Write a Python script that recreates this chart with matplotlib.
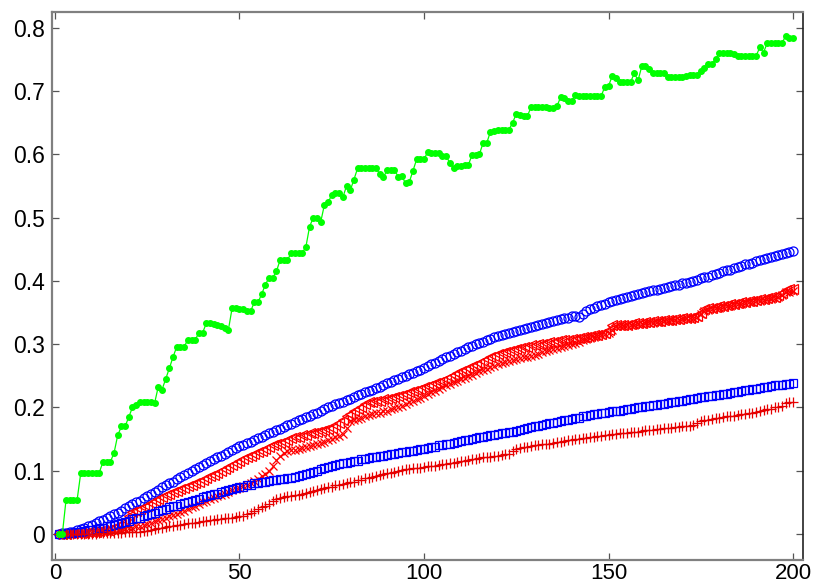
import numpy as np
import matplotlib
matplotlib.use("Agg")
import matplotlib.pyplot as plt

plt.rcParams['font.family'] = ['Liberation Sans', 'DejaVu Sans']

# x positions 1..200
x = np.arange(1, 201)

# green dots + line
green_vals = [
    0.000, 0.000, 0.054, 0.054, 0.054, 0.054, 0.097, 0.097, 0.097, 0.097,
    0.097, 0.097, 0.114, 0.114, 0.114, 0.128, 0.156, 0.170, 0.170, 0.185,
    0.200, 0.204, 0.209, 0.209, 0.209, 0.209, 0.207, 0.233, 0.228, 0.245,
    0.262, 0.280, 0.296, 0.296, 0.296, 0.307, 0.307, 0.307, 0.318, 0.318,
    0.333, 0.333, 0.332, 0.330, 0.328, 0.325, 0.323, 0.357, 0.357, 0.356,
    0.355, 0.353, 0.352, 0.366, 0.366, 0.379, 0.394, 0.405, 0.405, 0.415,
    0.433, 0.433, 0.433, 0.444, 0.444, 0.444, 0.444, 0.454, 0.486, 0.500,
    0.500, 0.493, 0.520, 0.524, 0.536, 0.539, 0.539, 0.532, 0.550, 0.543,
    0.560, 0.578, 0.578, 0.578, 0.578, 0.578, 0.578, 0.569, 0.564, 0.575,
    0.575, 0.575, 0.565, 0.566, 0.554, 0.556, 0.574, 0.592, 0.592, 0.592,
    0.604, 0.602, 0.602, 0.602, 0.598, 0.598, 0.586, 0.578, 0.581, 0.582,
    0.583, 0.583, 0.599, 0.599, 0.600, 0.618, 0.618, 0.636, 0.637, 0.638,
    0.638, 0.639, 0.639, 0.650, 0.664, 0.662, 0.661, 0.660, 0.675, 0.675,
    0.675, 0.675, 0.675, 0.674, 0.673, 0.676, 0.690, 0.689, 0.684, 0.684,
    0.694, 0.692, 0.692, 0.692, 0.692, 0.692, 0.692, 0.692, 0.707, 0.708,
    0.724, 0.720, 0.715, 0.715, 0.715, 0.715, 0.728, 0.717, 0.739, 0.739,
    0.735, 0.728, 0.728, 0.728, 0.728, 0.723, 0.723, 0.723, 0.723, 0.723,
    0.724, 0.726, 0.726, 0.726, 0.731, 0.737, 0.743, 0.743, 0.750, 0.760,
    0.760, 0.760, 0.760, 0.758, 0.756, 0.756, 0.756, 0.756, 0.756, 0.756,
    0.769, 0.761, 0.776, 0.776, 0.776, 0.776, 0.776, 0.787, 0.784, 0.784,
]

# blue circles (upper blue)
circle_vals = [
    0.000, 0.001, 0.002, 0.003, 0.004, 0.006, 0.008, 0.010, 0.012, 0.014,
    0.017, 0.020, 0.022, 0.025, 0.028, 0.031, 0.034, 0.037, 0.041, 0.044,
    0.047, 0.050, 0.053, 0.057, 0.060, 0.064, 0.067, 0.070, 0.074, 0.077,
    0.080, 0.083, 0.087, 0.090, 0.093, 0.096, 0.099, 0.103, 0.106, 0.109,
    0.112, 0.115, 0.118, 0.121, 0.124, 0.127, 0.130, 0.133, 0.136, 0.139,
    0.141, 0.144, 0.146, 0.149, 0.151, 0.154, 0.156, 0.159, 0.161, 0.164,
    0.166, 0.169, 0.172, 0.174, 0.177, 0.180, 0.182, 0.185, 0.187, 0.190,
    0.192, 0.195, 0.197, 0.200, 0.202, 0.205, 0.207, 0.209, 0.212, 0.214,
    0.216, 0.219, 0.221, 0.224, 0.226, 0.228, 0.231, 0.233, 0.236, 0.238,
    0.240, 0.243, 0.245, 0.248, 0.250, 0.253, 0.255, 0.258, 0.260, 0.263,
    0.266, 0.269, 0.271, 0.274, 0.277, 0.280, 0.282, 0.285, 0.287, 0.290,
    0.292, 0.295, 0.297, 0.300, 0.302, 0.304, 0.306, 0.309, 0.311, 0.313,
    0.314, 0.316, 0.318, 0.319, 0.321, 0.323, 0.324, 0.326, 0.327, 0.329,
    0.331, 0.332, 0.334, 0.335, 0.337, 0.338, 0.340, 0.341, 0.342, 0.344,
    0.344, 0.343, 0.348, 0.352, 0.356, 0.358, 0.360, 0.362, 0.364, 0.366,
    0.368, 0.370, 0.371, 0.373, 0.375, 0.376, 0.378, 0.379, 0.381, 0.382,
    0.384, 0.385, 0.386, 0.388, 0.389, 0.390, 0.392, 0.393, 0.394, 0.396,
    0.397, 0.399, 0.400, 0.402, 0.404, 0.406, 0.407, 0.409, 0.411, 0.413,
    0.415, 0.417, 0.418, 0.420, 0.422, 0.424, 0.426, 0.427, 0.429, 0.431,
    0.433, 0.435, 0.436, 0.438, 0.440, 0.441, 0.443, 0.444, 0.446, 0.447,
]

# red left triangles
tri_vals = [
    0.000, 0.000, 0.000, 0.001, 0.001, 0.001, 0.002, 0.002, 0.003, 0.003,
    0.004, 0.005, 0.006, 0.007, 0.008, 0.010, 0.012, 0.016, 0.022, 0.029,
    0.035, 0.037, 0.040, 0.042, 0.045, 0.049, 0.052, 0.055, 0.059, 0.062,
    0.064, 0.066, 0.068, 0.071, 0.073, 0.076, 0.078, 0.081, 0.083, 0.086,
    0.089, 0.092, 0.094, 0.097, 0.100, 0.103, 0.106, 0.109, 0.112, 0.115,
    0.118, 0.121, 0.124, 0.127, 0.130, 0.132, 0.135, 0.137, 0.140, 0.142,
    0.144, 0.146, 0.149, 0.151, 0.153, 0.154, 0.156, 0.157, 0.159, 0.160,
    0.161, 0.163, 0.164, 0.166, 0.168, 0.172, 0.176, 0.181, 0.186, 0.190,
    0.194, 0.198, 0.201, 0.205, 0.208, 0.209, 0.210, 0.211, 0.213, 0.214,
    0.215, 0.217, 0.218, 0.220, 0.222, 0.224, 0.226, 0.228, 0.230, 0.232,
    0.234, 0.236, 0.238, 0.240, 0.242, 0.245, 0.248, 0.251, 0.254, 0.257,
    0.260, 0.262, 0.265, 0.267, 0.270, 0.273, 0.276, 0.279, 0.281, 0.284,
    0.286, 0.288, 0.290, 0.291, 0.293, 0.294, 0.295, 0.296, 0.298, 0.299,
    0.300, 0.301, 0.302, 0.303, 0.304, 0.305, 0.306, 0.306, 0.307, 0.308,
    0.309, 0.310, 0.311, 0.312, 0.313, 0.314, 0.315, 0.316, 0.318, 0.323,
    0.330, 0.330, 0.330, 0.331, 0.331, 0.332, 0.333, 0.333, 0.334, 0.335,
    0.335, 0.336, 0.337, 0.337, 0.338, 0.339, 0.339, 0.340, 0.340, 0.341,
    0.342, 0.342, 0.343, 0.344, 0.350, 0.355, 0.357, 0.358, 0.359, 0.360,
    0.361, 0.362, 0.363, 0.364, 0.365, 0.366, 0.367, 0.368, 0.369, 0.370,
    0.371, 0.372, 0.373, 0.374, 0.375, 0.377, 0.381, 0.386, 0.387, 0.388,
]

# red crosses
cross_vals = [
    0.000, 0.000, 0.000, 0.000, 0.001, 0.001, 0.001, 0.001, 0.002, 0.002,
    0.002, 0.003, 0.003, 0.004, 0.004, 0.005, 0.006, 0.007, 0.008, 0.009,
    0.010, 0.012, 0.013, 0.015, 0.016, 0.018, 0.020, 0.022, 0.024, 0.026,
    0.028, 0.030, 0.032, 0.035, 0.037, 0.040, 0.042, 0.045, 0.047, 0.050,
    0.052, 0.055, 0.057, 0.060, 0.062, 0.064, 0.066, 0.069, 0.071, 0.073,
    0.076, 0.078, 0.081, 0.084, 0.087, 0.091, 0.095, 0.100, 0.108, 0.117,
    0.123, 0.128, 0.132, 0.133, 0.133, 0.134, 0.136, 0.137, 0.139, 0.140,
    0.142, 0.144, 0.146, 0.148, 0.150, 0.153, 0.155, 0.158, 0.168, 0.178,
    0.180, 0.182, 0.184, 0.186, 0.188, 0.189, 0.191, 0.192, 0.194, 0.195,
    0.197, 0.199, 0.201, 0.203, 0.205, 0.208, 0.210, 0.213, 0.215, 0.218,
    0.221, 0.224, 0.226, 0.229, 0.232, 0.235, 0.237, 0.240, 0.242, 0.245,
    0.247, 0.250, 0.252, 0.255, 0.257, 0.259, 0.261, 0.264, 0.266, 0.268,
    0.270, 0.272, 0.274, 0.275, 0.277, 0.278, 0.279, 0.280, 0.282, 0.283,
    0.285, 0.287, 0.289, 0.291, 0.293, 0.294, 0.296, 0.297, 0.299, 0.300,
    0.302, 0.304, 0.306, 0.308, 0.310, 0.312, 0.313, 0.315, 0.316, 0.318,
    0.323, 0.328, 0.329, 0.329, 0.330, 0.331, 0.331, 0.332, 0.332, 0.333,
    0.334, 0.334, 0.335, 0.335, 0.336, 0.337, 0.338, 0.338, 0.339, 0.340,
    0.341, 0.341, 0.342, 0.343, 0.347, 0.352, 0.354, 0.355, 0.357, 0.358,
    0.359, 0.360, 0.361, 0.362, 0.363, 0.364, 0.365, 0.366, 0.367, 0.368,
    0.369, 0.370, 0.371, 0.372, 0.373, 0.375, 0.378, 0.382, 0.383, 0.384,
]

# blue squares (lower blue)
square_vals = [
    0.000, 0.000, 0.001, 0.001, 0.002, 0.003, 0.004, 0.005, 0.006, 0.007,
    0.008, 0.009, 0.010, 0.012, 0.013, 0.015, 0.016, 0.018, 0.019, 0.021,
    0.023, 0.025, 0.026, 0.028, 0.030, 0.032, 0.034, 0.036, 0.038, 0.040,
    0.042, 0.044, 0.045, 0.047, 0.049, 0.051, 0.053, 0.054, 0.056, 0.058,
    0.060, 0.061, 0.063, 0.064, 0.066, 0.068, 0.069, 0.071, 0.072, 0.074,
    0.075, 0.077, 0.078, 0.080, 0.081, 0.082, 0.083, 0.084, 0.085, 0.086,
    0.087, 0.087, 0.088, 0.089, 0.090, 0.092, 0.093, 0.095, 0.096, 0.098,
    0.100, 0.102, 0.104, 0.106, 0.108, 0.109, 0.110, 0.112, 0.113, 0.114,
    0.115, 0.116, 0.118, 0.119, 0.120, 0.121, 0.122, 0.123, 0.124, 0.125,
    0.126, 0.127, 0.128, 0.129, 0.130, 0.131, 0.132, 0.133, 0.134, 0.135,
    0.136, 0.137, 0.138, 0.140, 0.141, 0.142, 0.143, 0.144, 0.146, 0.147,
    0.148, 0.149, 0.150, 0.152, 0.153, 0.154, 0.155, 0.156, 0.157, 0.158,
    0.159, 0.160, 0.161, 0.162, 0.163, 0.165, 0.166, 0.167, 0.169, 0.170,
    0.171, 0.172, 0.174, 0.175, 0.176, 0.177, 0.178, 0.180, 0.181, 0.182,
    0.183, 0.184, 0.186, 0.187, 0.188, 0.189, 0.190, 0.191, 0.192, 0.193,
    0.194, 0.195, 0.195, 0.196, 0.197, 0.198, 0.199, 0.200, 0.201, 0.202,
    0.203, 0.204, 0.204, 0.205, 0.206, 0.207, 0.208, 0.209, 0.210, 0.211,
    0.212, 0.213, 0.214, 0.215, 0.216, 0.217, 0.218, 0.218, 0.219, 0.220,
    0.221, 0.222, 0.223, 0.224, 0.225, 0.226, 0.227, 0.228, 0.229, 0.230,
    0.231, 0.232, 0.233, 0.234, 0.235, 0.236, 0.236, 0.237, 0.237, 0.238,
]

# red plus
plus_vals = [
    0.000, 0.000, 0.000, 0.000, 0.000, 0.000, 0.000, 0.000, 0.000, 0.000,
    0.000, 0.001, 0.001, 0.001, 0.001, 0.002, 0.002, 0.002, 0.003, 0.003,
    0.003, 0.004, 0.004, 0.005, 0.005, 0.007, 0.008, 0.009, 0.010, 0.011,
    0.012, 0.013, 0.014, 0.015, 0.016, 0.017, 0.018, 0.018, 0.019, 0.020,
    0.021, 0.022, 0.022, 0.023, 0.024, 0.025, 0.026, 0.026, 0.027, 0.028,
    0.029, 0.031, 0.033, 0.036, 0.040, 0.043, 0.045, 0.048, 0.052, 0.055,
    0.057, 0.059, 0.060, 0.060, 0.061, 0.062, 0.064, 0.065, 0.067, 0.068,
    0.069, 0.071, 0.072, 0.074, 0.075, 0.077, 0.078, 0.079, 0.081, 0.082,
    0.083, 0.085, 0.086, 0.088, 0.089, 0.090, 0.092, 0.093, 0.095, 0.096,
    0.097, 0.098, 0.100, 0.101, 0.102, 0.103, 0.104, 0.104, 0.105, 0.106,
    0.107, 0.108, 0.108, 0.109, 0.110, 0.111, 0.112, 0.113, 0.114, 0.115,
    0.116, 0.117, 0.118, 0.119, 0.120, 0.121, 0.121, 0.122, 0.123, 0.124,
    0.125, 0.126, 0.127, 0.131, 0.135, 0.136, 0.137, 0.138, 0.139, 0.140,
    0.141, 0.142, 0.142, 0.143, 0.144, 0.145, 0.146, 0.147, 0.148, 0.149,
    0.150, 0.150, 0.151, 0.152, 0.153, 0.154, 0.155, 0.155, 0.156, 0.157,
    0.158, 0.158, 0.159, 0.159, 0.160, 0.161, 0.162, 0.162, 0.163, 0.164,
    0.165, 0.165, 0.166, 0.166, 0.167, 0.168, 0.168, 0.169, 0.169, 0.170,
    0.171, 0.171, 0.172, 0.176, 0.179, 0.180, 0.181, 0.182, 0.183, 0.184,
    0.185, 0.186, 0.186, 0.187, 0.188, 0.189, 0.190, 0.191, 0.192, 0.193,
    0.194, 0.196, 0.197, 0.198, 0.200, 0.201, 0.203, 0.207, 0.208, 0.208,
]

xticks = [0, 50, 100, 150, 200]
yticks = [0, 0.1, 0.2, 0.3, 0.4, 0.5, 0.6, 0.7, 0.8]
ytick_labels = ['0', '0.1', '0.2', '0.3', '0.4', '0.5', '0.6', '0.7', '0.8']

fig = plt.figure(figsize=(8.14, 5.86), dpi=100)
ax = fig.add_axes([0.0639, 0.0444, 0.9226, 0.9351])

ax.plot(x, circle_vals, 'o', color=(0, 0, 1), mfc='none', ms=6.5, mew=0.9)
ax.plot(x, tri_vals, '<', color=(1, 0, 0), mfc='none', ms=6.5, mew=0.9)
ax.plot(x, cross_vals, 'x', color=(1, 0, 0), ms=6, mew=0.9)
ax.plot(x, square_vals, 's', color=(0, 0, 1), mfc='none', ms=5.5, mew=0.9)
ax.plot(x, plus_vals, '+', color=(0.9, 0, 0), ms=7, mew=0.9)
ax.plot(x, green_vals, '.-', color=(0, 1, 0), ms=8, lw=0.9)

ax.set_xlim(-0.8, 202.7)
ax.set_ylim(-0.041, 0.825)
ax.set_xticks(xticks)
ax.set_yticks(yticks)
ax.set_yticklabels(ytick_labels)

ax.tick_params(direction='in', length=5, width=0.9, color='#555555',
               top=True, right=True, labelsize=16.5, pad=5)
ax.tick_params(axis='x', pad=2, labelsize=16)
for side in ['left', 'bottom', 'top']:
    ax.spines[side].set_color('#808080')
    ax.spines[side].set_linewidth(1.6)
ax.spines['right'].set_color('#222222')
ax.spines['right'].set_linewidth(1.2)

fig.savefig('out.png', dpi=100)
